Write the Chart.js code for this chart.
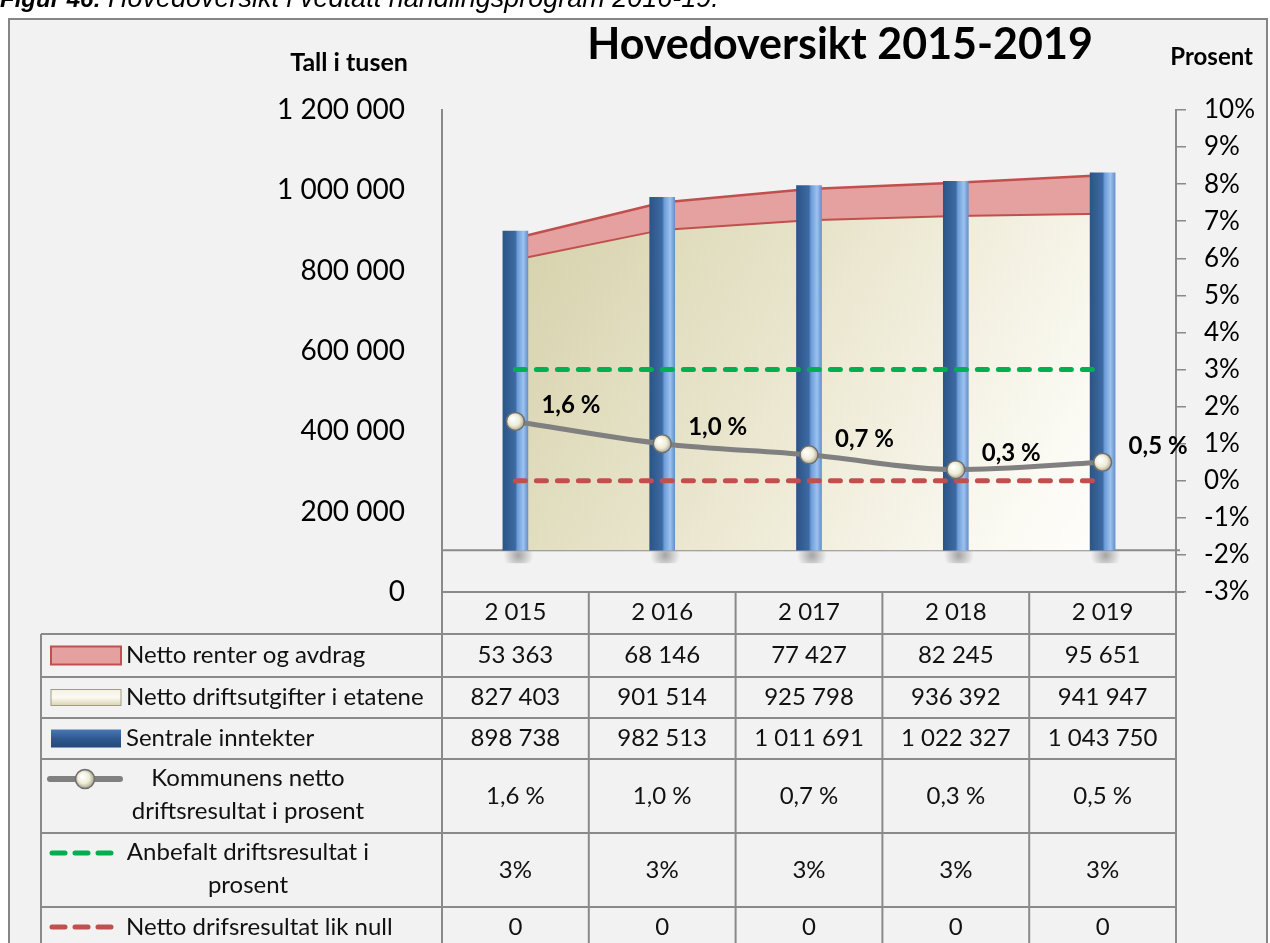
<!DOCTYPE html>
<html lang="no">
<head>
<meta charset="utf-8">
<title>Hovedoversikt 2015-2019</title>
<script src="https://cdn.jsdelivr.net/npm/chart.js@4.4.1/dist/chart.umd.min.js"></script>
<style>
  html, body { margin: 0; padding: 0; background: #fff; }
  #wrap { position: relative; width: 1270px; height: 943px; }
</style>
</head>
<body>
<div id="wrap"><canvas id="chart" width="1270" height="943"></canvas></div>
<script>
// data (tall i tusen / prosent)
const years = ['2 015', '2 016', '2 017', '2 018', '2 019'];
const nettoRenter = [53363, 68146, 77427, 82245, 95651];
const nettoDrift = [827403, 901514, 925798, 936392, 941947];
const sentraleInntekter = [898738, 982513, 1011691, 1022327, 1043750];
const driftsresultat = [1.6, 1.0, 0.7, 0.3, 0.5];
const anbefalt = [3, 3, 3, 3, 3];
const nullLinje = [0, 0, 0, 0, 0];

const leftMin = 0, leftMax = 1200000, leftStep = 200000;
const rightMin = -3, rightMax = 10, rightStep = 1;

const rowLabels = [
  ['Netto renter og avdrag'],
  ['Netto driftsutgifter i etatene'],
  ['Sentrale inntekter'],
  ['Kommunens netto', 'driftsresultat i prosent'],
  ['Anbefalt driftsresultat i', 'prosent'],
  ['Netto drifsresultat lik null']
];

// style / layout
const FONT = 'Lato, "Open Sans", sans-serif';
const floorValue = 104000;          // 3D floor of the Excel chart
const headerH = 42;
const rowHeights = [43, 41, 41, 74, 74, 50];
const lineGrey = '#8a8a8a';

const fmtThousands = v => String(v).replace(/\B(?=(\d{3})+(?!\d))/g, ' ');
const fmtPct = v => v.toFixed(1).replace('.', ',') + ' %';

const tableCells = [
  nettoRenter.map(fmtThousands),
  nettoDrift.map(fmtThousands),
  sentraleInntekter.map(fmtThousands),
  driftsresultat.map(fmtPct),
  anbefalt.map(v => v + '%'),
  nullLinje.map(v => String(v))
];

function barGradient(c) {
  const chart = c.chart;
  if (c.dataIndex === undefined || !chart.chartArea) return '#3b659c';
  const cx = chart.scales.x.getPixelForValue(c.dataIndex);
  const g = chart.ctx.createLinearGradient(cx - 12.5, 0, cx + 12.5, 0);
  g.addColorStop(0, '#2b5587');
  g.addColorStop(0.5, '#3e6aa4');
  g.addColorStop(0.58, '#6b9bd8');
  g.addColorStop(0.82, '#9cc2f0');
  g.addColorStop(1, '#6790c8');
  return g;
}

function beigeGradient(c) {
  const a = c.chart.chartArea;
  if (!a) return '#e8e4c8';
  const g = c.chart.ctx.createLinearGradient(a.left + 60, a.top + 120, a.right - 60, a.bottom);
  g.addColorStop(0, '#d5d1aa');
  g.addColorStop(0.45, '#ebe7d0');
  g.addColorStop(0.8, '#faf9f1');
  g.addColorStop(1, '#ffffff');
  return g;
}

function sphere(c) {
  const chart = c.chart;
  if (c.dataIndex === undefined || !chart.chartArea) return '#eeecd8';
  const px = chart.scales.x.getPixelForValue(c.dataIndex);
  const py = chart.scales.y1.getPixelForValue(driftsresultat[c.dataIndex]);
  const g = chart.ctx.createRadialGradient(px - 3, py - 3, 1, px, py, 10);
  g.addColorStop(0, '#ffffff');
  g.addColorStop(0.55, '#eeecd6');
  g.addColorStop(1, '#9c9a84');
  return g;
}

const decor = {
  id: 'decor',
  beforeDraw(chart) {
    const {ctx, width, height} = chart;
    ctx.save();
    ctx.fillStyle = '#fff';
    ctx.fillRect(0, 0, width, height);
    ctx.fillStyle = '#f2f2f2';
    ctx.fillRect(9, 19, 1258, height);
    ctx.strokeStyle = '#858585';
    ctx.lineWidth = 2;
    ctx.strokeRect(9, 19, 1258, height + 20);

    // caption, cut by the page top
    ctx.fillStyle = '#000';
    ctx.textAlign = 'left';
    ctx.textBaseline = 'alphabetic';
    ctx.font = 'italic bold 24px "Liberation Sans", Arial, sans-serif';
    ctx.fillText('Figur 46:', 0, 7);
    const w = ctx.measureText('Figur 46: ').width;
    ctx.font = 'italic 27px "Liberation Sans", Arial, sans-serif';
    ctx.fillText('Hovedoversikt i vedtatt handlingsprogram 2016-19.', w, 7);

    ctx.textBaseline = 'middle';
    ctx.textAlign = 'center';
    ctx.font = 'bold 43px ' + FONT;
    ctx.fillText('Hovedoversikt 2015-2019', 840, 45);
    ctx.font = 'bold 25px ' + FONT;
    ctx.fillText('Tall i tusen', 349, 63);
    ctx.textAlign = 'right';
    ctx.font = 'bold 24px ' + FONT;
    ctx.fillText('Prosent', 1253, 57);
    ctx.restore();
  },
  beforeDatasetsDraw(chart) {
    const {ctx, chartArea} = chart;
    const fy = chart.scales.y.getPixelForValue(floorValue);
    ctx.save();
    ctx.strokeStyle = lineGrey;
    ctx.lineWidth = 2;
    ctx.beginPath();
    ctx.moveTo(chartArea.left, fy);
    ctx.lineTo(chartArea.right + 4, fy);
    ctx.moveTo(chartArea.right, chartArea.bottom);
    ctx.lineTo(chartArea.right + 8, chartArea.bottom);
    ctx.stroke();
    // soft shadows under the columns
    const meta = chart.getDatasetMeta(2);
    meta.data.forEach(bar => {
      const g = ctx.createRadialGradient(bar.x + 3, fy + 5, 1, bar.x + 3, fy + 5, 15);
      g.addColorStop(0, 'rgba(0,0,0,0.3)');
      g.addColorStop(1, 'rgba(0,0,0,0)');
      ctx.fillStyle = g;
      ctx.fillRect(bar.x - 14, fy + 1, 34, 12);
    });
    ctx.restore();
  },
  afterDatasetsDraw(chart) {
    const {ctx} = chart;
    const meta = chart.getDatasetMeta(5);
    ctx.save();
    ctx.fillStyle = '#000';
    ctx.font = 'bold 24px ' + FONT;
    ctx.textAlign = 'left';
    ctx.textBaseline = 'middle';
    meta.data.forEach((pt, i) => {
      ctx.fillText(fmtPct(driftsresultat[i]), pt.x + 26, pt.y - 16);
    });
    ctx.restore();
  },
  afterDraw(chart) {
    const {ctx, chartArea} = chart;
    const xs = chart.scales.x;
    const colW = xs.width / years.length;
    const top = chartArea.bottom;
    const tblLeft = 41;
    const labelRight = chartArea.left;
    const right = chartArea.right;
    const edges = [top, top + headerH];
    rowHeights.forEach(h => edges.push(edges[edges.length - 1] + h));

    ctx.save();
    ctx.strokeStyle = lineGrey;
    ctx.lineWidth = 2;
    ctx.beginPath();
    for (let r = 1; r < edges.length - 1; r++) {
      ctx.moveTo(tblLeft, edges[r]);
      ctx.lineTo(right, edges[r]);
    }
    ctx.moveTo(tblLeft, edges[1]);
    ctx.lineTo(tblLeft, chart.height);
    ctx.moveTo(labelRight, top);
    ctx.lineTo(labelRight, chart.height);
    years.forEach((y, i) => {
      const xr = xs.getPixelForValue(i) + colW / 2;
      ctx.moveTo(xr, top);
      ctx.lineTo(xr, chart.height);
    });
    ctx.stroke();

    ctx.fillStyle = '#111';
    ctx.font = '24px ' + FONT;
    ctx.textAlign = 'center';
    ctx.textBaseline = 'middle';
    years.forEach((y, i) => ctx.fillText(y, xs.getPixelForValue(i), top + headerH / 2 - 1));

    rowLabels.forEach((lines, r) => {
      const y0 = edges[r + 1];
      const h = rowHeights[r];
      const mid = r === 5 ? y0 + 20 : y0 + h / 2;
      tableCells[r].forEach((t, i) => ctx.fillText(t, xs.getPixelForValue(i), mid));
      if (lines.length === 1) {
        ctx.textAlign = 'left';
        ctx.fillText(lines[0], 126, mid);
        ctx.textAlign = 'center';
      } else {
        ctx.fillText(lines[0], 248, y0 + 19);
        ctx.fillText(lines[1], 248, y0 + 52);
      }
      drawKey(ctx, r, r >= 3 ? y0 + 20 : mid);
    });
    ctx.restore();
  }
};

function drawKey(ctx, r, y) {
  ctx.save();
  if (r === 0) {
    ctx.fillStyle = '#e5a1a0';
    ctx.strokeStyle = '#c0504d';
    ctx.lineWidth = 2;
    ctx.fillRect(51, y - 9, 70, 18);
    ctx.strokeRect(51, y - 9, 70, 18);
  } else if (r === 1) {
    const g = ctx.createLinearGradient(0, y - 8, 0, y + 8);
    g.addColorStop(0, '#f4f2e4');
    g.addColorStop(0.5, '#fbfaf3');
    g.addColorStop(1, '#d8d4b0');
    ctx.fillStyle = g;
    ctx.fillRect(51, y - 8, 70, 16);
    ctx.strokeStyle = '#a09c80';
    ctx.lineWidth = 1;
    ctx.strokeRect(51, y - 8, 70, 16);
  } else if (r === 2) {
    const g = ctx.createLinearGradient(0, y - 9, 0, y + 9);
    g.addColorStop(0, '#4a78b4');
    g.addColorStop(0.5, '#2f5a90');
    g.addColorStop(1, '#24487a');
    ctx.fillStyle = g;
    ctx.fillRect(51, y - 9, 70, 18);
  } else if (r === 3) {
    ctx.strokeStyle = '#808080';
    ctx.lineWidth = 6;
    ctx.lineCap = 'round';
    ctx.beginPath();
    ctx.moveTo(50, y);
    ctx.lineTo(120, y);
    ctx.stroke();
    const g = ctx.createRadialGradient(82, y - 3, 1, 85, y, 10);
    g.addColorStop(0, '#ffffff');
    g.addColorStop(0.55, '#eeecd6');
    g.addColorStop(1, '#9c9a84');
    ctx.fillStyle = g;
    ctx.strokeStyle = '#6e6e6e';
    ctx.lineWidth = 1.5;
    ctx.beginPath();
    ctx.arc(85, y, 9.5, 0, Math.PI * 2);
    ctx.fill();
    ctx.stroke();
  } else {
    ctx.strokeStyle = r === 4 ? '#00b050' : '#c0504d';
    ctx.lineWidth = 5;
    ctx.lineCap = 'round';
    ctx.setLineDash([13, 10]);
    ctx.beginPath();
    ctx.moveTo(52, y);
    ctx.lineTo(112, y);
    ctx.stroke();
  }
  ctx.restore();
}

new Chart(document.getElementById('chart'), {
  data: {
    labels: years,
    datasets: [
      {
        type: 'line',
        label: 'Netto driftsutgifter i etatene',
        data: nettoDrift,
        yAxisID: 'y',
        stack: 'utgifter',
        order: 5,
        fill: {value: floorValue},
        backgroundColor: beigeGradient,
        borderColor: '#c0504d',
        borderWidth: 2,
        pointRadius: 0,
        tension: 0
      },
      {
        type: 'line',
        label: 'Netto renter og avdrag',
        data: nettoRenter,
        yAxisID: 'y',
        stack: 'utgifter',
        order: 6,
        fill: '-1',
        backgroundColor: '#e5a1a0',
        borderColor: '#c0504d',
        borderWidth: 2.5,
        pointRadius: 0,
        tension: 0
      },
      {
        type: 'bar',
        label: 'Sentrale inntekter',
        data: sentraleInntekter,
        yAxisID: 'y',
        stack: 'inntekter',
        order: 4,
        base: floorValue,
        barThickness: 25,
        backgroundColor: barGradient,
        borderWidth: 0
      },
      {
        type: 'line',
        label: 'Anbefalt driftsresultat i prosent',
        data: anbefalt,
        yAxisID: 'y1',
        order: 3,
        borderColor: '#00b050',
        borderWidth: 5,
        borderDash: [10, 11],
        borderCapStyle: 'round',
        pointRadius: 0,
        fill: false
      },
      {
        type: 'line',
        label: 'Netto drifsresultat lik null',
        data: nullLinje,
        yAxisID: 'y1',
        order: 2,
        borderColor: '#c0504d',
        borderWidth: 5,
        borderDash: [10, 11],
        borderCapStyle: 'round',
        pointRadius: 0,
        fill: false
      },
      {
        type: 'line',
        label: 'Kommunens netto driftsresultat i prosent',
        data: driftsresultat,
        yAxisID: 'y1',
        order: 1,
        borderColor: '#808080',
        borderWidth: 5,
        cubicInterpolationMode: 'monotone',
        pointRadius: 9,
        pointBackgroundColor: sphere,
        pointBorderColor: '#6e6e6e',
        pointBorderWidth: 1.5,
        fill: false
      }
    ]
  },
  options: {
    responsive: false,
    animation: false,
    devicePixelRatio: 1,
    layout: {padding: {top: 110, left: 0, right: 0, bottom: 0}},
    plugins: {
      legend: {display: false},
      title: {display: false},
      tooltip: {enabled: false}
    },
    scales: {
      x: {
        offset: true,
        ticks: {display: false},
        grid: {drawOnChartArea: false, drawTicks: false},
        border: {color: lineGrey, width: 2},
        afterFit(s) { s.height = 351; }
      },
      y: {
        position: 'left',
        stacked: true,
        min: leftMin,
        max: leftMax,
        ticks: {
          stepSize: leftStep,
          padding: 37,
          color: '#000',
          font: {family: FONT, size: 28},
          callback: v => fmtThousands(v)
        },
        grid: {drawOnChartArea: false, drawTicks: false},
        border: {color: lineGrey, width: 2},
        afterFit(s) { s.width = 442; }
      },
      y1: {
        position: 'right',
        min: rightMin,
        max: rightMax,
        ticks: {
          stepSize: rightStep,
          padding: 18,
          color: '#000',
          font: {family: FONT, size: 26},
          callback: v => v + '%'
        },
        grid: {drawOnChartArea: false, tickLength: 10, color: lineGrey, lineWidth: 1.5},
        border: {color: lineGrey, width: 2},
        afterFit(s) { s.width = 94; }
      }
    }
  },
  plugins: [decor]
});
</script>
</body>
</html>
